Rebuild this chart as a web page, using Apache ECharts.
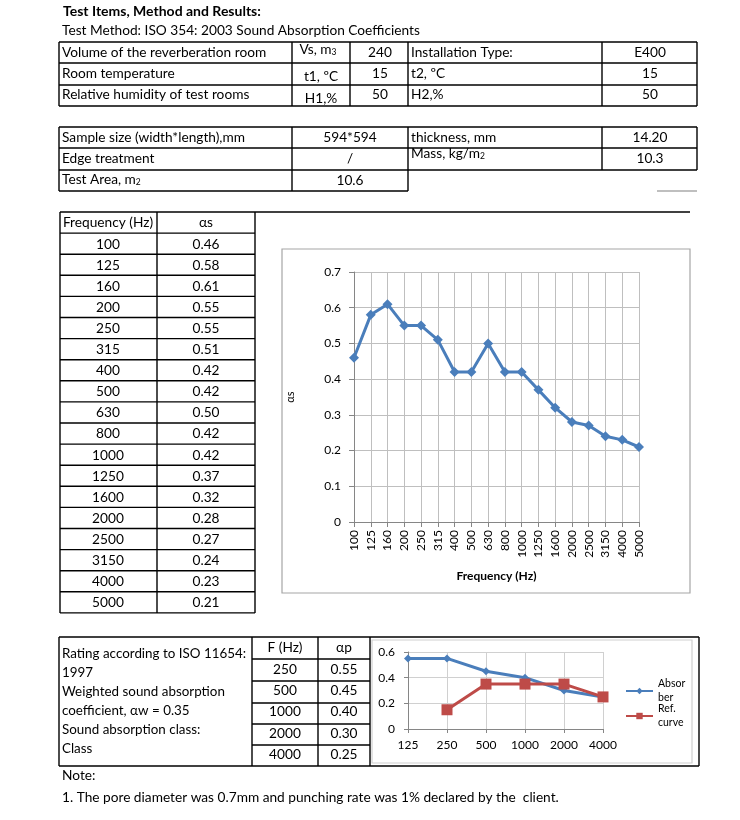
<!DOCTYPE html>
<html><head><meta charset="utf-8">
<script src="https://cdn.jsdelivr.net/npm/echarts@6/dist/echarts.min.js"></script>
<style>html,body{margin:0;padding:0;background:#fff}#c{width:740px;height:820px}</style>
</head><body><div id="c"></div>
<script>
// ---- data ----
const freqs = ['100','125','160','200','250','315','400','500','630','800','1000','1250','1600','2000','2500','3150','4000','5000'];
const alphaS = [0.46,0.58,0.61,0.55,0.55,0.51,0.42,0.42,0.50,0.42,0.42,0.37,0.32,0.28,0.27,0.24,0.23,0.21];
const ratingFreqs = ['125','250','500','1000','2000','4000'];
const absorber = [0.55,0.55,0.45,0.40,0.30,0.25];
const refCurve = [null,0.15,0.35,0.35,0.35,0.25];
const apFreqs = ['250','500','1000','2000','4000'];
const apValues = [0.55,0.45,0.40,0.30,0.25];

const FF = 'Lato, "Noto Sans", sans-serif';
const BASE = 13.7;
const g = [];
function T(text, x, y, o) {
  o = o || {};
  const st = {text: text, x: x, y: y, fill: '#000', fontFamily: FF, fontSize: o.size || BASE,
    fontWeight: o.bold ? 'bold' : 'normal', textAlign: o.align || 'left', textVerticalAlign: 'middle'};
  if (o.rich) st.rich = o.rich;
  g.push({type: 'text', silent: true, z: 10, style: st});
}
function L(x1, y1, x2, y2, c, w) {
  g.push({type: 'line', silent: true, z: 5, shape: {x1: x1, y1: y1, x2: x2, y2: y2},
    style: {stroke: c || '#000', lineWidth: w || 1.4}});
}
const sub = {s: {fontSize: 8.5, fontFamily: FF, padding: [4, 0, 0, 0]}};

// header
T('Test Items, Method and Results:', 63, 11, {bold: true, size: 14});
T('Test Method: ISO 354: 2003 Sound Absorption Coefficients', 62, 31);

// table 1
[42, 63, 85, 106].forEach(y => L(59, y, 697, y));
[59, 292, 350, 408, 602, 697].forEach(x => L(x, 42, x, 106));
T('Volume of the reverberation room', 62, 52.5);
T('Vs, m{s|3}', 318, 50, {align: 'center', rich: sub});
T('240', 380, 52.5, {align: 'center'});
T('Installation Type:', 411, 52.5);
T('E400', 650, 52.5, {align: 'center'});
T('Room temperature', 62, 73.5);
T('t1, ºC', 321, 77, {align: 'center'});
T('15', 380, 73.5, {align: 'center'});
T('t2, ºC', 411, 73.5);
T('15', 650, 73.5, {align: 'center'});
T('Relative humidity of test rooms', 62, 95);
T('H1,%', 321, 98.5, {align: 'center'});
T('50', 380, 95, {align: 'center'});
T('H2,%', 411, 95);
T('50', 650, 95, {align: 'center'});

// table 2
[127, 148, 170].forEach(y => L(59, y, 697, y));
L(59, 191, 408, 191);
L(657, 191, 697, 191, '#aaa', 1.4);
[59, 292, 408].forEach(x => L(x, 127, x, 191));
[602, 697].forEach(x => L(x, 127, x, 170));
T('Sample size (width*length),mm', 62, 138);
T('594*594', 350, 138, {align: 'center'});
T('thickness, mm', 411, 138);
T('14.20', 650, 138, {align: 'center'});
T('Edge treatment', 62, 158.5);
T('/', 350, 158.5, {align: 'center'});
T('Mass, kg/m{s|2}', 411, 154, {rich: sub});
T('10.3', 650, 159, {align: 'center'});
T('Test Area, m{s|2}', 62, 180, {rich: sub});
T('10.6', 350, 180.5, {align: 'center'});

// frequency table
const rowH = 21.1, top0 = 212;
const nRows = freqs.length + 1;
for (let i = 0; i <= nRows; i++) L(60, top0 + i * rowH, 255, top0 + i * rowH);
L(255, top0, 690, top0);
[60, 157, 255].forEach(x => L(x, top0, x, top0 + nRows * rowH));
T('Frequency (Hz)', 108, top0 + rowH / 2 + 0.5, {align: 'center'});
T('αs', 206, top0 + rowH / 2 + 0.5, {align: 'center'});
freqs.forEach((f, i) => {
  const y = top0 + (i + 1.5) * rowH + 0.5;
  T(f, 108, y, {align: 'center'});
  T(alphaS[i].toFixed(2), 206, y, {align: 'center'});
});

// main chart border
g.push({type: 'rect', silent: true, z: 1, shape: {x: 282, y: 249, width: 408, height: 344},
  style: {fill: 'none', stroke: '#a6a6a6', lineWidth: 1.2}});

// bottom section
L(59, 637, 699, 637);
L(59, 766, 699, 766);
[59, 252, 318, 370, 699].forEach(x => L(x, 637, x, 766));
[659, 681, 703, 724, 745].forEach(y => L(252, y, 370, y));
T('F (Hz)', 285, 648, {align: 'center'});
T('αp', 344, 648, {align: 'center'});
apFreqs.forEach((f, i) => {
  const y = [670, 691, 712, 733.5, 754.5][i];
  T(f, 285, y, {align: 'center'});
  T(apValues[i].toFixed(2), 344, y, {align: 'center'});
});
const RS = 13.4;
T('Rating according to ISO 11654:', 62, 654, {size: RS});
T('1997', 62, 673, {size: RS});
T('Weighted sound absorption', 62, 692, {size: RS});
T('coefficient, αw = 0.35', 62, 711, {size: RS});
T('Sound absorption class:', 62, 730, {size: RS});
T('Class', 62, 749, {size: RS});
g.push({type: 'rect', silent: true, z: 1, shape: {x: 372, y: 640, width: 320, height: 123},
  style: {fill: 'none', stroke: '#cfcfcf', lineWidth: 1.2}});

T('Note:', 62, 776);
T('1. The pore diameter was 0.7mm and punching rate was 1% declared by the  client.', 62, 798);

const chart = echarts.init(document.getElementById('c'), null, {renderer: 'canvas'});
const axisGray = '#868686';
chart.setOption({
  animation: false,
  backgroundColor: '#fff',
  textStyle: {fontFamily: FF},
  graphic: g,
  grid: [
    {left: 354, top: 272, width: 285, height: 250},
    {left: 408, top: 652, width: 195, height: 77}
  ],
  legend: [
    {data: ['Absorber'], orient: 'vertical', left: 620, top: 665, itemWidth: 27, itemHeight: 8, itemGap: 0,
      formatter: () => 'Absor\nber', textStyle: {fontSize: 10.5, lineHeight: 14, fontFamily: FF, color: '#000', padding: [14, 0, 0, 0]}},
    {data: ['Ref. curve'], orient: 'vertical', left: 620, top: 690, itemWidth: 27, itemHeight: 8, itemGap: 0,
      formatter: () => 'Ref.\ncurve', textStyle: {fontSize: 10.5, lineHeight: 14, fontFamily: FF, color: '#000', padding: [14, 0, 0, 0]}}
  ],
  xAxis: [
    {type: 'category', gridIndex: 0, data: freqs, boundaryGap: false,
      name: 'Frequency (Hz)', nameLocation: 'middle', nameGap: 48,
      nameTextStyle: {fontWeight: 'bold', fontSize: 12, color: '#000', fontFamily: FF},
      axisLine: {lineStyle: {color: axisGray}}, axisTick: {length: 5, lineStyle: {color: axisGray}},
      axisLabel: {rotate: 90, fontSize: 12, color: '#000', margin: 8, interval: 0, fontFamily: FF},
      splitLine: {show: true, lineStyle: {color: '#bfbfbf'}}},
    {type: 'category', gridIndex: 1, data: ratingFreqs, boundaryGap: false,
      axisLine: {lineStyle: {color: axisGray}}, axisTick: {length: 4, lineStyle: {color: axisGray}},
      axisLabel: {fontSize: 12, color: '#000', margin: 10, interval: 0, fontFamily: FF},
      splitLine: {show: true, lineStyle: {color: '#d0d0d0'}}}
  ],
  yAxis: [
    {type: 'value', gridIndex: 0, min: 0, max: 0.7, interval: 0.1,
      name: 'αs', nameLocation: 'middle', nameGap: 58,
      nameTextStyle: {fontSize: 11, color: '#000', fontFamily: FF},
      axisLine: {show: true, lineStyle: {color: axisGray}}, axisTick: {show: true, length: 5, lineStyle: {color: axisGray}},
      axisLabel: {fontSize: 12, color: '#000', margin: 13, fontFamily: FF},
      splitLine: {show: true, lineStyle: {color: '#bfbfbf'}}},
    {type: 'value', gridIndex: 1, min: 0, max: 0.6, interval: 0.2,
      axisLine: {show: true, lineStyle: {color: axisGray}}, axisTick: {show: true, length: 4, lineStyle: {color: axisGray}},
      axisLabel: {fontSize: 12, color: '#000', margin: 13, fontFamily: FF},
      splitLine: {show: true, lineStyle: {color: '#d0d0d0'}}}
  ],
  series: [
    {name: 'αs', type: 'line', xAxisIndex: 0, yAxisIndex: 0, data: alphaS,
      symbol: 'diamond', symbolSize: 10, lineStyle: {width: 3, color: '#4a7ebb'}, itemStyle: {color: '#4a7ebb'}},
    {name: 'Absorber', type: 'line', xAxisIndex: 1, yAxisIndex: 1, data: absorber,
      symbol: 'diamond', symbolSize: 8, lineStyle: {width: 3, color: '#4a7ebb'}, itemStyle: {color: '#4a7ebb'}},
    {name: 'Ref. curve', type: 'line', xAxisIndex: 1, yAxisIndex: 1, data: refCurve,
      symbol: 'rect', symbolSize: 11, lineStyle: {width: 3, color: '#be4b48'}, itemStyle: {color: '#be4b48'}}
  ]
});
</script></body></html>
